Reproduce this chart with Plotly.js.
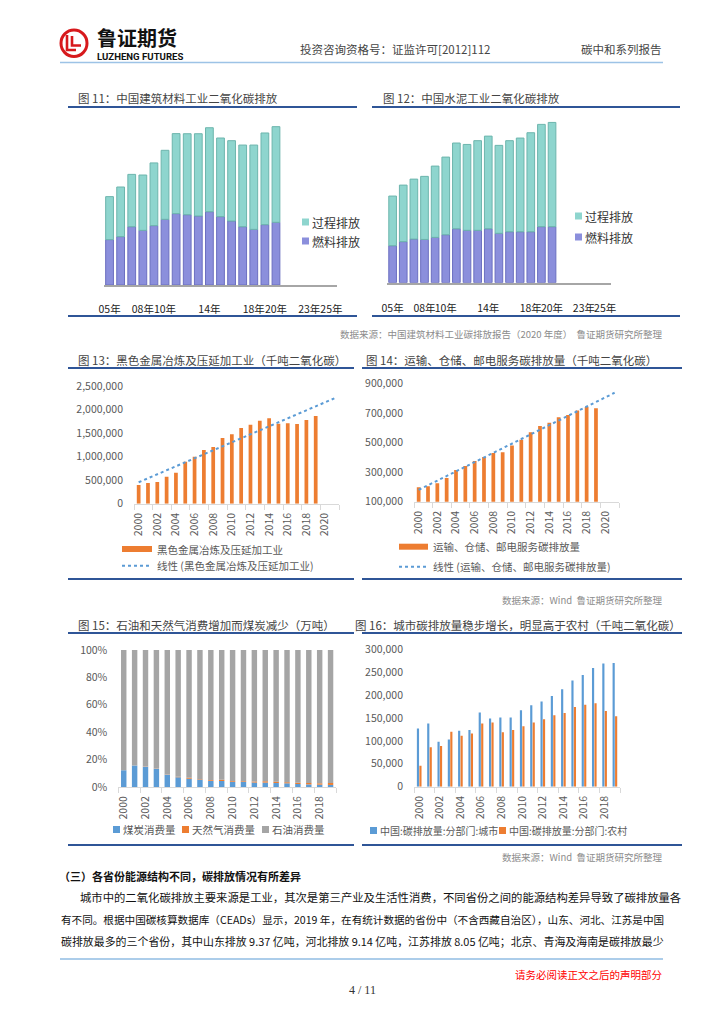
<!DOCTYPE html>
<html><head><meta charset="utf-8">
<script src="https://cdn.plot.ly/plotly-3.0.1.min.js"></script>
<style>html,body{margin:0;padding:0;background:#fff}#chart{width:724px;height:1024px}</style>
</head><body><div id="chart"></div>
<script>
const W = 724, H = 1024;
const px = x => x / W, py = y => 1 - y / H;

// ---------- data ----------
// Fig 11: building materials industry CO2 (estimated, 亿吨)
const years11 = [2005,2006,2007,2008,2009,2010,2011,2012,2013,2014,2015,2016,2017,2018,2019,2020];
const fuel11 = [4.24,4.52,5.45,5.11,5.55,6.14,6.67,6.57,6.45,6.85,6.39,5.98,5.45,5.20,5.64,5.86];
const process11 = [4.02,4.64,4.89,5.17,5.86,6.45,7.48,7.57,7.69,7.85,7.35,7.51,7.63,7.88,8.57,8.94];
const tickVals11 = [2005,2008,2010,2014,2018,2020,2023,2025];
const tickText11 = ['05年','08年','10年','14年','18年','20年','23年','25年'];
// Fig 12: cement industry CO2 (estimated, 亿吨)
const years12 = [2005,2006,2007,2008,2009,2010,2011,2012,2013,2014,2015,2016,2017,2018,2019,2020];
const fuel12 = [2.84,3.15,3.35,3.32,3.48,3.68,4.14,4.02,4.02,4.14,3.79,3.91,3.91,3.91,4.30,4.30];
const process12 = [3.81,4.34,4.60,4.84,5.47,5.96,6.58,6.59,6.88,7.11,6.75,6.99,7.19,7.60,7.85,8.00];
// Fig 13-16 years
const years = [2000,2001,2002,2003,2004,2005,2006,2007,2008,2009,2010,2011,2012,2013,2014,2015,2016,2017,2018,2019];
const tickYearsA = [2000,2002,2004,2006,2008,2010,2012,2014,2016,2018,2020];
const tickYearsB = [2000,2002,2004,2006,2008,2010,2012,2014,2016,2018];
// Fig 13: ferrous metal smelting (千吨CO2)
const steel13 = [397000,439000,460000,574000,659000,892000,999000,1140000,1204000,1395000,1473000,1608000,1678000,1763000,1813000,1700000,1707000,1693000,1778000,1863000];
// Fig 14: transport, storage, post (千吨CO2)
const transport14 = [197000,204000,224000,260000,314000,341000,375000,402000,429000,434000,479000,519000,569000,612000,634000,670000,686000,717000,740000,731000];
// Fig 15: shares (%)
const coal15 = [12.2,15.6,14.8,13.4,9.0,7.1,6.1,5.4,4.6,4.4,3.9,3.6,3.2,3.2,2.9,2.7,2.2,1.9,1.7,1.5];
const gas15 = [0.1,0.1,0.1,0.1,0.2,0.3,0.6,0.4,0.5,0.8,0.5,0.6,0.9,1.0,1.0,0.8,0.9,1.1,1.0,1.5];
const oil15 = [87.7,84.3,85.1,86.5,90.8,92.6,93.3,94.2,94.9,94.8,95.6,95.8,95.9,95.8,96.1,96.5,96.9,97.0,97.3,97.0];
const pctTicks15 = [0,20,40,60,80,100];
const pctText15 = ['0%','20%','40%','60%','80%','100%'];
// Fig 16: urban / rural (千吨CO2)
const urban16 = [127000,138000,98000,103000,122000,124000,162000,149000,151000,151000,167000,178000,186000,198000,213000,232000,244000,259000,269000,270000];
const rural16 = [46000,86000,89000,120000,111000,116000,138000,140000,119000,124000,132000,140000,147000,156000,161000,174000,179000,182000,165000,154000];

// ---------- helpers ----------
function linfit(xs, ys, xEnd) {
  const n = xs.length;
  const mx = xs.reduce((a,b)=>a+b,0)/n, my = ys.reduce((a,b)=>a+b,0)/n;
  let sxy = 0, sxx = 0;
  for (let i=0;i<n;i++){ sxy += (xs[i]-mx)*(ys[i]-my); sxx += (xs[i]-mx)**2; }
  const b = sxy/sxx, a = my - b*mx;
  return {x:[xs[0], xEnd], y:[a+b*xs[0], a+b*xEnd]};
}
const sumArr = (a,b) => a.map((v,i)=>v+b[i]);
const CJK = '"Noto Sans CJK SC", "Noto Sans", sans-serif';
const ORANGE = '#ed7d31', BLUE = '#5b9bd5', GRAY = '#a5a5a5';
const TEAL = '#8ed5ce', TEAL_L = '#6db5ad', PURP = '#8b8fdc', PURP_L = '#6b6fc0';

const trend13 = linfit(years, steel13, 2021);
const trend14 = linfit(years, transport14, 2021);

const traces = [
  // Fig 11
  {type:'bar', x:years11, y:fuel11, xaxis:'x', yaxis:'y', width:0.7,
   marker:{color:PURP, line:{color:PURP_L, width:1}}, hoverinfo:'skip'},
  {type:'bar', x:years11, y:process11, base:fuel11, xaxis:'x', yaxis:'y', width:0.7,
   marker:{color:TEAL, line:{color:TEAL_L, width:1}}, hoverinfo:'skip'},
  // Fig 12
  {type:'bar', x:years12, y:fuel12, xaxis:'x2', yaxis:'y2', width:0.72,
   marker:{color:PURP, line:{color:PURP_L, width:1}}, hoverinfo:'skip'},
  {type:'bar', x:years12, y:process12, base:fuel12, xaxis:'x2', yaxis:'y2', width:0.72,
   marker:{color:TEAL, line:{color:TEAL_L, width:1}}, hoverinfo:'skip'},
  // Fig 13
  {type:'bar', x:years, y:steel13, xaxis:'x3', yaxis:'y3', width:0.4, marker:{color:ORANGE}},
  {type:'scatter', mode:'lines', x:trend13.x, y:trend13.y, xaxis:'x3', yaxis:'y3',
   line:{color:BLUE, width:2, dash:'dot'}},
  // Fig 14
  {type:'bar', x:years, y:transport14, xaxis:'x4', yaxis:'y4', width:0.4, marker:{color:ORANGE}},
  {type:'scatter', mode:'lines', x:trend14.x, y:trend14.y, xaxis:'x4', yaxis:'y4',
   line:{color:BLUE, width:2, dash:'dot'}},
  // Fig 15
  {type:'bar', x:years, y:coal15, xaxis:'x5', yaxis:'y5', width:0.5, marker:{color:BLUE}},
  {type:'bar', x:years, y:gas15, base:coal15, xaxis:'x5', yaxis:'y5', width:0.5, marker:{color:ORANGE}},
  {type:'bar', x:years, y:oil15, base:sumArr(coal15,gas15), xaxis:'x5', yaxis:'y5', width:0.5, marker:{color:GRAY}},
  // Fig 16
  {type:'bar', x:years, y:urban16, xaxis:'x6', yaxis:'y6', width:0.21, offset:-0.22, marker:{color:BLUE}},
  {type:'bar', x:years, y:rural16, xaxis:'x6', yaxis:'y6', width:0.21, offset:0.02, marker:{color:ORANGE}}
];

const tickFont = {family:CJK, size:10.5, color:'#595959'};
function catX(domain, range, tickvals, anchor) {
  return {domain, range, anchor, tickmode:'array', tickvals, ticktext:tickvals.map(String),
    tickangle:-90, showline:true, linecolor:'#d9d9d9', linewidth:1, ticks:'', showgrid:false,
    zeroline:false, tickfont:tickFont, ticklabelstandoff:4,
    minor:{ticks:'outside', tickmode:'linear', tick0:1999.5, dtick:2, ticklen:5, tickcolor:'#d9d9d9', showgrid:false}};
}
function valY(domain, range, tickvals, anchor, ticktext) {
  const o = {domain, range, anchor, tickmode:'array', tickvals,
    showline:false, ticks:'', showgrid:false, zeroline:false, tickfont:tickFont, ticklabelstandoff:10};
  if (ticktext) o.ticktext = ticktext; else o.tickformat = ',';
  return o;
}
const x11font = {family:CJK, size:10.5, color:'#222'};

const layout = {
  width:W, height:H, margin:{l:0,r:0,t:0,b:0}, paper_bgcolor:'#fff', plot_bgcolor:'rgba(0,0,0,0)',
  barmode:'overlay', showlegend:false, font:{family:CJK},
  xaxis:{domain:[px(104),px(337)], range:[2004.5,2025.5], anchor:'y', tickmode:'array',
    tickvals:tickVals11, ticktext:tickText11, tickangle:0, showline:true, linecolor:'#a6a6a6', linewidth:2,
    ticks:'', showgrid:false, zeroline:false, tickfont:x11font, ticklabelstandoff:13},
  yaxis:{domain:[py(285),py(115)], range:[0,15.89], anchor:'x', visible:false},
  xaxis2:{domain:[px(387.3),px(610.5)], range:[2004.5,2025.5], anchor:'y2', tickmode:'array',
    tickvals:tickVals11, ticktext:tickText11, tickangle:0, showline:true, linecolor:'#a6a6a6', linewidth:2,
    ticks:'', showgrid:false, zeroline:false, tickfont:x11font, ticklabelstandoff:15},
  yaxis2:{domain:[py(282.7),py(115)], range:[0,12.87], anchor:'x2', visible:false},
  xaxis3: catX([px(134),px(339)], [1999.5,2021.5], tickYearsA, 'y3'),
  yaxis3: valY([py(503.7),py(385.06)], [0,2520000], [0,500000,1000000,1500000,2000000,2500000], 'x3'),
  xaxis4: catX([px(414),px(619.3)], [1999.5,2021.5], tickYearsA, 'y4'),
  yaxis4: valY([py(501.7),py(382.56)], [100000,905000], [100000,300000,500000,700000,900000], 'x4'),
  xaxis5: catX([px(118.3),px(336)], [1999.5,2019.5], tickYearsB, 'y5'),
  yaxis5: valY([py(787),py(648.6)], [0,101], pctTicks15, 'x5', pctText15),
  xaxis6: catX([px(414),px(620)], [1999.5,2019.5], tickYearsB, 'y6'),
  yaxis6: valY([py(786.7),py(647.9)], [0,303000], [0,50000,100000,150000,200000,250000,300000], 'x6'),
  annotations:[], shapes:[]
};

function ann(text, x, y, o) {
  o = o || {};
  layout.annotations.push({text, x:px(x), y:py(y), xref:'paper', yref:'paper', showarrow:false,
    xanchor:o.anchor||'left', yanchor:'middle', borderpad:0,
    font:{family:o.family||CJK, size:o.size||11, color:o.color||'#333'}});
}
function hline(x0,x1,y,color,width,dash) {
  layout.shapes.push({type:'line', xref:'paper', yref:'paper', x0:px(x0), x1:px(x1), y0:py(y), y1:py(y),
    line:{color, width, dash:dash||'solid'}});
}
function rect(x0,x1,y0,y1,color) {
  layout.shapes.push({type:'rect', xref:'paper', yref:'paper', x0:px(x0), x1:px(x1), y0:py(y0), y1:py(y1),
    fillcolor:color, line:{width:0}});
}
function path(pts, color, width) {
  const d = pts.map((p,i)=>(i?'L':'M')+px(p[0]).toFixed(5)+','+py(p[1]).toFixed(5)).join(' ');
  layout.shapes.push({type:'path', xref:'paper', yref:'paper', path:d, line:{color, width}});
}

// ---- header ----
layout.shapes.push({type:'circle', xref:'paper', yref:'paper', x0:px(61), x1:px(87), y0:py(56.5), y1:py(30),
  line:{color:'#d7191c', width:3}});
path([[67,35],[67,50],[76,50]], '#d7191c', 2.6);
path([[72,36],[72,45.5],[81,45.5]], '#d7191c', 2.6);
ann('<b>鲁证期货</b>', 96, 37, {size:20, color:'#111'});
ann('<b>LUZHENG FUTURES</b>', 96, 56, {size:9.6, color:'#111', family:'Roboto, "Liberation Sans", sans-serif'});
ann('投资咨询资格号：证监许可[2012]112', 299, 49, {size:11.5, color:'#444'});
ann('碳中和系列报告', 663, 49, {size:11.5, color:'#444', anchor:'right'});
hline(60, 663, 62.5, '#9dc3e6', 1.5);

// ---- row 1 ----
ann('图 11：中国建筑材料工业二氧化碳排放', 77, 98, {size:11.5, color:'#444'});
ann('图 12：中国水泥工业二氧化碳排放', 382, 98, {size:11.5, color:'#444'});
hline(68, 357, 107, '#2f5597', 2);
hline(372, 680, 107, '#2f5597', 2);
rect(302, 309, 218.5, 225.5, TEAL); ann('过程排放', 311, 222, {size:12, color:'#333'});
rect(302, 309, 237.5, 244.5, PURP); ann('燃料排放', 311, 241, {size:12, color:'#333'});
rect(575, 582, 212.5, 219.5, TEAL); ann('过程排放', 584, 216, {size:12, color:'#333'});
rect(575, 582, 233.5, 240.5, PURP); ann('燃料排放', 584, 237, {size:12, color:'#333'});
hline(68, 357, 316, '#2f5597', 2);
hline(372, 680, 316, '#2f5597', 2);
ann('数据来源：中国建筑材料工业碳排放报告（2020 年度）  鲁证期货研究所整理', 663, 334, {size:9.5, color:'#8c8c8c', anchor:'right'});

// ---- row 2 ----
ann('图 13：黑色金属冶炼及压延加工业（千吨二氧化碳）', 77, 360, {size:11.5, color:'#444'});
ann('图 14：运输、仓储、邮电服务碳排放量（千吨二氧化碳）', 365, 360, {size:11.5, color:'#444'});
hline(68, 354, 368, '#2f5597', 2);
hline(362, 682, 368, '#2f5597', 2);
rect(122, 152, 546, 552, ORANGE); ann('黑色金属冶炼及压延加工业', 156, 549, {size:10.5, color:'#595959'});
hline(122, 152, 565.7, BLUE, 2, 'dot'); ann('线性 (黑色金属冶炼及压延加工业)', 156, 565.7, {size:10.5, color:'#595959'});
rect(399, 428, 543.7, 549.7, ORANGE); ann('运输、仓储、邮电服务碳排放量', 432, 546.7, {size:10.5, color:'#595959'});
hline(399, 428, 566.7, BLUE, 2, 'dot'); ann('线性 (运输、仓储、邮电服务碳排放量)', 432, 566.7, {size:10.5, color:'#595959'});
hline(68, 354, 579, '#2f5597', 2);
hline(362, 682, 579, '#2f5597', 2);
ann('数据来源：Wind  鲁证期货研究所整理', 663, 600, {size:9.5, color:'#8c8c8c', anchor:'right'});

// ---- row 3 ----
ann('图 15：石油和天然气消费增加而煤炭减少（万吨）', 77, 625, {size:11.5, color:'#444'});
ann('图 16：城市碳排放量稳步增长，明显高于农村（千吨二氧化碳）', 354, 625, {size:11.5, color:'#444'});
hline(68, 354, 633, '#2f5597', 2);
hline(362, 682, 633, '#2f5597', 2);
rect(113, 120, 826, 833, BLUE); ann('煤炭消费量', 122, 829.5, {size:10.5, color:'#595959'});
rect(182, 189, 826, 833, ORANGE); ann('天然气消费量', 191, 829.5, {size:10.5, color:'#595959'});
rect(262, 269, 826, 833, GRAY); ann('石油消费量', 271, 829.5, {size:10.5, color:'#595959'});
rect(370, 377, 827, 834, BLUE); ann('中国:碳排放量:分部门:城市', 379, 830.5, {size:10, color:'#595959'});
rect(499, 506, 827, 834, ORANGE); ann('中国:碳排放量:分部门:农村', 508, 830.5, {size:10, color:'#595959'});
hline(68, 354, 845, '#2f5597', 2);
hline(362, 682, 845, '#2f5597', 2);
ann('数据来源：Wind  鲁证期货研究所整理', 663, 857, {size:9.5, color:'#8c8c8c', anchor:'right'});

// ---- text ----
ann('<b>（三）各省份能源结构不同，碳排放情况有所差异</b>', 58, 876, {size:11, color:'#111'});
ann('城市中的二氧化碳排放主要来源是工业，其次是第三产业及生活性消费，不同省份之间的能源结构差异导致了碳排放量各', 79, 897, {size:11.35, color:'#111'});
ann('有不同。根据中国碳核算数据库（CEADs）显示，2019 年，在有统计数据的省份中（不含西藏自治区），山东、河北、江苏是中国', 60, 919, {size:10.6, color:'#111'});
ann('碳排放最多的三个省份，其中山东排放 9.37 亿吨，河北排放 9.14 亿吨，江苏排放 8.05 亿吨；北京、青海及海南是碳排放最少', 60, 941, {size:10.93, color:'#111'});
hline(60, 663, 959, '#5b9bd5', 1.2);
ann('请务必阅读正文之后的声明部分', 663, 974, {size:10.5, color:'#ff0000', anchor:'right'});
ann('4 / 11', 362, 990, {size:12, color:'#333', anchor:'center', family:'"Liberation Serif", serif'});

Plotly.newPlot('chart', traces, layout, {staticPlot:true, displayModeBar:false});
</script>
</body></html>
